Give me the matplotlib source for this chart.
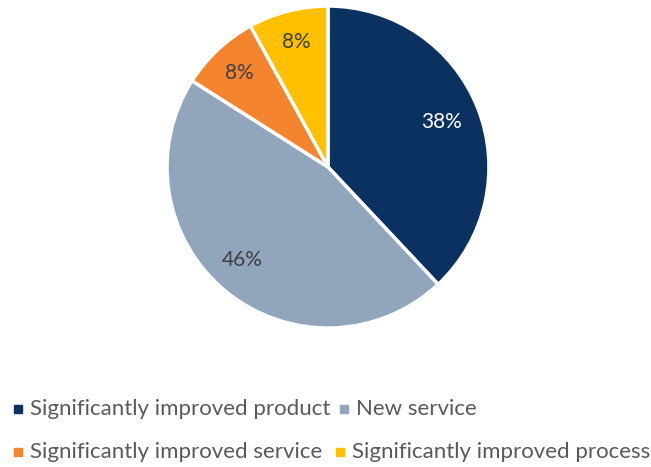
import matplotlib.pyplot as plt
from matplotlib.patches import Rectangle

categories = ["Significantly improved product", "New service",
              "Significantly improved service", "Significantly improved process"]
shares = [38, 46, 8, 8]
colors = ["#0B3161", "#91A5BD", "#F5842F", "#FFC000"]
label_colors = ["white", "#404040", "#404040", "#404040"]

plt.rcParams['font.family'] = ['Lato', 'DejaVu Sans']

fig = plt.figure(figsize=(6.51, 4.67), dpi=100)
ax = fig.add_axes([0.2565, 0.2976, 0.4946, 0.6895])

wedges, texts, autotexts = ax.pie(
    shares, colors=colors, startangle=90, counterclock=False,
    autopct="%d%%", pctdistance=0.8,
    wedgeprops=dict(edgecolor="white", linewidth=2.5),
    textprops=dict(fontsize=15))
for t, c in zip(autotexts, label_colors):
    t.set_color(c)
# nudge labels a bit like the original
shift = [(0.95, 0.95), (1.05, 0.94), (1.0, 1.0), (1.0, 1.0)]
for t, (sx, sy) in zip(autotexts, shift):
    x, y = t.get_position()
    t.set_position((x * sx, y * sy))
ax.set_xlim(-1.0, 1.0)
ax.set_ylim(-1.0, 1.0)
ax.set_aspect("auto")
ax.axis("off")

# legend, laid out like the Excel one (two rows, flowing)
W, H = 651, 467
entries = [(0, 14, 409), (1, 340, 409), (2, 14, 452), (3, 336, 452)]
for i, x, y in entries:
    fig.patches.append(Rectangle((x / W, 1 - (y + 4) / H), 8 / W, 8 / H,
                                 transform=fig.transFigure, color=colors[i]))
    fig.text((x + 16) / W, 1 - y / H, categories[i], fontsize=16,
             color="#595959", va="center", ha="left")

fig.savefig("out.png", dpi=100)
